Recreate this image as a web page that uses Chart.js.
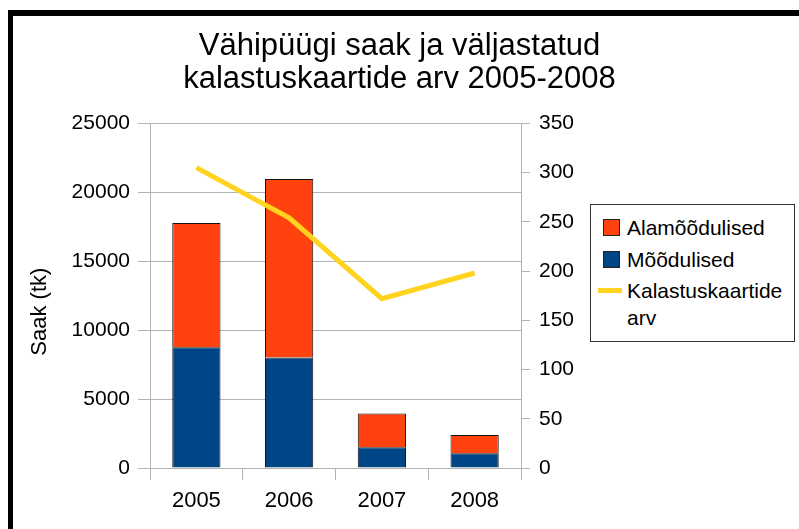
<!DOCTYPE html>
<html>
<head>
<meta charset="utf-8">
<script src="https://cdn.jsdelivr.net/npm/chart.js@4.4.1/dist/chart.umd.min.js"></script>
<style>
  html, body { margin: 0; padding: 0; background: #fff; }
  #wrap { position: relative; width: 799px; height: 529px; overflow: hidden; font-family: "Liberation Sans", Arial, sans-serif; }
  #chart { position: absolute; left: 0; top: 0; }
  /* black frame of the original sheet */
  #frame { position: absolute; left: 8px; top: 10px; right: -10px; bottom: -10px; border-top: 6px solid #000; border-left: 5px solid #000; pointer-events: none; }
  #legend { position: absolute; left: 590px; top: 204px; width: 205px; height: 138px; border: 1px solid #333; box-sizing: border-box; padding-top: 9px; background: #fff; }
  .item { position: relative; margin-bottom: 4.5px; padding-left: 36px; padding-right: 4px; font-size: 21px; line-height: 27px; color: #000; }
  .box { position: absolute; left: 12px; top: 5px; width: 15px; height: 15px; border: 1px solid #222; }
  .line { position: absolute; left: 7px; top: 11px; width: 24px; height: 5px; }
</style>
</head>
<body>
<div id="wrap">
  <canvas id="chart" width="799" height="529" style="width:799px;height:529px"></canvas>
  <div id="frame"></div>
  <div id="legend"></div>
</div>
<script>
const years = ['2005', '2006', '2007', '2008'];
const moodulised = [8750, 8020, 1500, 1065];        // bottom part of bars
const alamoodulised = [9025, 12950, 2460, 1325];    // top part of bars
const kaardid = [305, 254, 172, 198];               // right axis line

const titleLines = ['Vähipüügi saak ja väljastatud', 'kalastuskaartide arv 2005-2008'];
const yTitle = 'Saak (tk)';
const labels = ['Mõõdulised', 'Alamõõdulised', 'Kalastuskaartide arv'];
const colors = ['#004586', '#ff420e', '#ffd320'];

const font = 'Liberation Sans';

// plain numbers, no thousands separator
const plain = (v) => String(v);

// axis title sits a bit below the middle of the axis in the original
const yTitlePlugin = {
    id: 'yTitle',
    afterDraw(chart) {
        const ctx = chart.ctx;
        const mid = (chart.chartArea.top + chart.chartArea.bottom) / 2 + 16;
        ctx.save();
        ctx.translate(40, mid);
        ctx.rotate(-Math.PI / 2);
        ctx.font = '22px "' + font + '"';
        ctx.fillStyle = '#000';
        ctx.textAlign = 'center';
        ctx.textBaseline = 'middle';
        ctx.fillText(yTitle, 0, 0);
        ctx.restore();
    }
};

const chart = new Chart(document.getElementById('chart').getContext('2d'), {
    type: 'bar',
    data: {
        labels: years,
        datasets: [{
            type: 'line',
            label: labels[2],
            data: kaardid,
            yAxisID: 'y1',
            borderColor: colors[2],
            borderWidth: 5,
            pointRadius: 0,
            tension: 0,
            order: 0
        }, {
            label: labels[0],
            data: moodulised,
            backgroundColor: colors[0],
            borderColor: '#111',
            borderWidth: 1,
            barPercentage: 0.52,
            categoryPercentage: 1,
            order: 1
        }, {
            label: labels[1],
            data: alamoodulised,
            backgroundColor: colors[1],
            borderColor: '#111',
            borderWidth: 1,
            barPercentage: 0.52,
            categoryPercentage: 1,
            order: 1
        }]
    },
    options: {
        responsive: false,
        animation: false,
        layout: { padding: { top: 30, left: 0, right: 0, bottom: 0 } },
        plugins: {
            legend: { display: false },
            tooltip: { enabled: false },
            title: {
                display: true,
                text: titleLines,
                color: '#000',
                font: { family: font, size: 31, weight: 'normal', lineHeight: 1.07 },
                padding: { top: 0, bottom: 27 }
            }
        },
        scales: {
            x: {
                stacked: true,
                grid: { offset: true, drawOnChartArea: false, color: '#b3b3b3', tickLength: 12 },
                border: { color: '#b3b3b3' },
                ticks: { color: '#000', font: { family: font, size: 22 }, padding: 8 },
                afterFit: (s) => { s.height = 61; }
            },
            y: {
                stacked: true,
                min: 0,
                max: 25000,
                ticks: { stepSize: 5000, callback: plain, color: '#000', font: { family: font, size: 21 }, padding: 8 },
                grid: { color: '#b3b3b3', tickLength: 12 },
                border: { color: '#b3b3b3' },
                afterFit: (s) => { s.width = 150; }
            },
            y1: {
                position: 'right',
                min: 0,
                max: 350,
                ticks: { stepSize: 50, callback: plain, color: '#000', font: { family: font, size: 21 }, padding: 9 },
                grid: { drawOnChartArea: false, color: '#b3b3b3', tickLength: 9 },
                border: { color: '#b3b3b3' },
                afterFit: (s) => { s.width = 278; }
            }
        }
    },
    plugins: [yTitlePlugin]
});

// legend in the order of the original: top bar part, bottom bar part, line
const legend = document.getElementById('legend');
[1, 0, 2].forEach(function(i) {
    const item = document.createElement('div');
    item.className = 'item';
    const mark = document.createElement('span');
    mark.className = i === 2 ? 'line' : 'box';
    mark.style.background = colors[i];
    item.appendChild(mark);
    item.appendChild(document.createTextNode(labels[i]));
    legend.appendChild(item);
});
</script>
</body>
</html>
